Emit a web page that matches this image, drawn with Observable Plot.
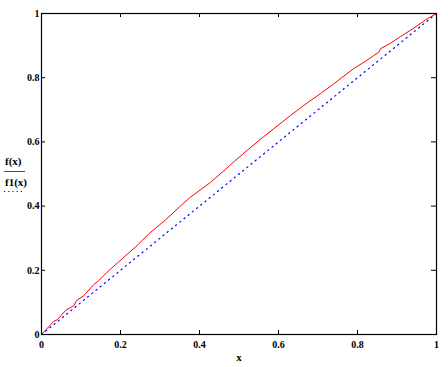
<!DOCTYPE html>
<html><head><meta charset="utf-8">
<script src="https://cdn.jsdelivr.net/npm/d3@7"></script>
<script src="https://cdn.jsdelivr.net/npm/@observablehq/plot@0.6"></script>
<style>body{margin:0;background:#fff} svg{display:block}</style>
</head><body><div id="chart"></div>
<script>
// f(x) samples
const xValues = [0, 0.031, 0.040, 0.061, 0.082, 0.089, 0.107, 0.132, 0.145, 0.166, 0.196, 0.242, 0.272, 0.314, 0.356, 0.377, 0.386, 0.428, 0.457, 0.487, 0.521, 0.554, 0.588, 0.630, 0.673, 0.706, 0.740, 0.760, 0.791, 0.820, 0.841, 0.854, 0.858, 0.884, 0.909, 0.943, 0.972, 1.0];
const fValues = [0, 0.041, 0.046, 0.075, 0.090, 0.106, 0.121, 0.155, 0.168, 0.194, 0.227, 0.277, 0.314, 0.357, 0.405, 0.428, 0.436, 0.474, 0.505, 0.538, 0.574, 0.608, 0.641, 0.682, 0.722, 0.750, 0.781, 0.800, 0.829, 0.851, 0.869, 0.879, 0.890, 0.908, 0.928, 0.955, 0.980, 1.0];
// f1(x)
const f1X = [0, 1];
const f1Values = [0, 1];
const xTicks = [0, 0.2, 0.4, 0.6, 0.8, 1];
const yTicks = [0, 0.2, 0.4, 0.6, 0.8, 1];
const innerTicks = [0.2, 0.4, 0.6, 0.8];
const legendLabels = ["f(x)", "f1(x)"];
const axisLabel = "x";

const W = 448, H = 367, mL = 41, mR = 12, mT = 13, mB = 33;
const pw = W - mL - mR, ph = H - mT - mB, tl = 4;

const fData = xValues.map((x, i) => ({x, y: fValues[i]}));
const f1Data = f1X.map((x, i) => ({x, y: f1Values[i]}));

const chart = Plot.plot({
  width: W, height: H,
  marginLeft: mL, marginRight: mR, marginTop: mT, marginBottom: mB,
  style: {fontFamily: "'Liberation Serif', 'Times New Roman', serif", fontSize: "10px", fontWeight: "bold", background: "white", overflow: "visible", color: "black"},
  x: {domain: [0, 1]},
  y: {domain: [0, 1]},
  marks: [
    Plot.line(f1Data, {x: "x", y: "y", stroke: "#0000ff", strokeWidth: 1.2, strokeDasharray: "1.2,4.2"}),
    Plot.line(fData, {x: "x", y: "y", stroke: "#ff0000", strokeWidth: 1}),
    Plot.frame({stroke: "black", strokeWidth: 1.2}),
    Plot.tickX(innerTicks, {x: d => d, insetTop: ph - tl, stroke: "black"}),
    Plot.tickX(innerTicks, {x: d => d, insetBottom: ph - tl, stroke: "black"}),
    Plot.tickY(innerTicks, {y: d => d, insetRight: pw - tl, stroke: "black"}),
    Plot.tickY(innerTicks, {y: d => d, insetLeft: pw - tl - 1, stroke: "black"}),
    Plot.axisX(xTicks, {anchor: "bottom", tickSize: 0, tickPadding: 6, label: null, tickFormat: d => String(d)}),
    Plot.axisY(yTicks, {anchor: "left", tickSize: 0, tickPadding: 2, label: null, tickFormat: d => String(d)}),
    Plot.text([axisLabel], {frameAnchor: "bottom", dy: 26, text: d => d, fontSize: 11, fontWeight: "bold"})
  ]
});
document.getElementById("chart").appendChild(chart);

// legend in the left margin
const svg = d3.select(chart);
const lg = svg.append("g").attr("font-family", "'Liberation Serif', serif").attr("font-weight", "bold").attr("font-size", 11).attr("text-anchor", "start");
lg.append("text").attr("x", 5).attr("y", 165).text(legendLabels[0]);
lg.append("line").attr("x1", 4).attr("x2", 25).attr("y1", 171.5).attr("y2", 171.5).attr("stroke", "#ff0000").attr("stroke-width", 1);
lg.append("text").attr("x", 5).attr("y", 186).text(legendLabels[1]);
lg.append("line").attr("x1", 4).attr("x2", 22).attr("y1", 191.5).attr("y2", 191.5).attr("stroke", "#0000ff").attr("stroke-width", 1.2).attr("stroke-dasharray", "1.2,3");
</script>
</body></html>
